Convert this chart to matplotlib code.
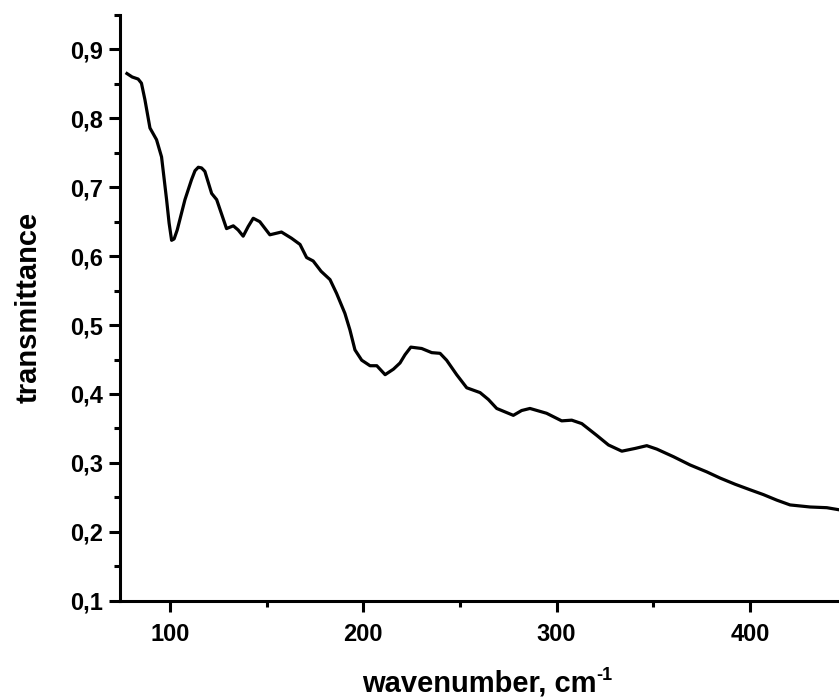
import matplotlib
matplotlib.use("Agg")
import matplotlib.pyplot as plt
import matplotlib.ticker as ticker
import numpy as np

# spectrum
wavenumber = [77.8, 80.5, 83.6, 85.3, 87.1, 89.7, 93.1, 95.7, 98.3, 99.6,
              100.9, 102.2, 103.8, 105.8, 107.8, 111.2, 113.0, 114.7, 116.4, 118.1,
              121.6, 124.2, 129.3, 132.8, 135.3, 137.9, 140.5, 143.1, 146.5, 151.7,
              157.7, 162.9, 167.3, 170.7, 174.1, 178.2, 182.8, 186.2, 190.5, 193.1,
              195.7, 199.2, 203.5, 207.0, 211.3, 215.6, 219.0, 221.6, 224.6, 230.2,
              235.4, 239.7, 243.1, 248.3, 253.5, 260.4, 264.7, 269.0, 277.6, 281.9,
              286.2, 294.8, 302.6, 307.8, 313.0, 320.7, 326.8, 333.7, 340.6, 346.6,
              351.8, 360.4, 369.0, 377.6, 384.5, 392.3, 400.0, 406.9, 413.8, 420.7,
              431.1, 439.7, 446.0]
transmittance = [0.865, 0.860, 0.857, 0.851, 0.827, 0.786, 0.769, 0.744, 0.682, 0.648,
                 0.623, 0.625, 0.638, 0.660, 0.682, 0.711, 0.724, 0.729, 0.728, 0.723,
                 0.691, 0.682, 0.640, 0.644, 0.638, 0.629, 0.643, 0.655, 0.650, 0.631,
                 0.635, 0.626, 0.617, 0.598, 0.593, 0.578, 0.566, 0.546, 0.517, 0.493,
                 0.464, 0.449, 0.441, 0.441, 0.428, 0.436, 0.445, 0.457, 0.468, 0.466,
                 0.460, 0.459, 0.449, 0.428, 0.409, 0.402, 0.392, 0.379, 0.369, 0.376,
                 0.379, 0.372, 0.361, 0.362, 0.357, 0.340, 0.326, 0.317, 0.321, 0.325,
                 0.320, 0.309, 0.297, 0.287, 0.278, 0.269, 0.261, 0.254, 0.246, 0.239,
                 0.236, 0.235, 0.232]

x_ticks = [100, 200, 300, 400]
y_ticks = [0.1, 0.2, 0.3, 0.4, 0.5, 0.6, 0.7, 0.8, 0.9]

plt.rcParams['font.family'] = ['Liberation Sans', 'DejaVu Sans']
plt.rcParams['font.weight'] = 'bold'

fig = plt.figure(figsize=(8.39, 6.99), dpi=100)
ax = fig.add_axes([0.143, 0.1406, 0.857, 0.838])

ax.plot(wavenumber, transmittance, color='black', linewidth=2.3,
        solid_joinstyle='round')

ax.set_xlim(74.2, 446)
ax.set_ylim(0.1, 0.95)
ax.set_xticks(x_ticks)
ax.set_yticks(y_ticks)
ax.xaxis.set_minor_locator(ticker.MultipleLocator(50))
ax.yaxis.set_minor_locator(ticker.MultipleLocator(0.05))
ax.yaxis.set_major_formatter(ticker.FuncFormatter(lambda v, p: f"{v:.1f}".replace('.', ',')))

for side in ['top', 'right']:
    ax.spines[side].set_visible(False)
for side in ['left', 'bottom']:
    ax.spines[side].set_linewidth(2.2)

ax.tick_params(which='major', direction='out', length=8, width=2.2, labelsize=17)
ax.tick_params(axis='x', which='major', pad=8)
ax.tick_params(axis='y', which='major', pad=4)
ax.tick_params(which='minor', direction='out', length=4, width=2.2)
for lbl in ax.get_xticklabels() + ax.get_yticklabels():
    lbl.set_fontweight('bold')

ax.set_xlabel("wavenumber, cm", fontsize=21, fontweight='bold', labelpad=17)
ax.set_ylabel("transmittance", fontsize=21, fontweight='bold', labelpad=20)
# superscript with a plain hyphen, as in the original
ax.annotate("-1", xy=(1.0, 0.8), xycoords=ax.xaxis.label,
            ha='left', va='center', fontsize=13, fontweight='bold')

fig.savefig("out.png", dpi=100)
